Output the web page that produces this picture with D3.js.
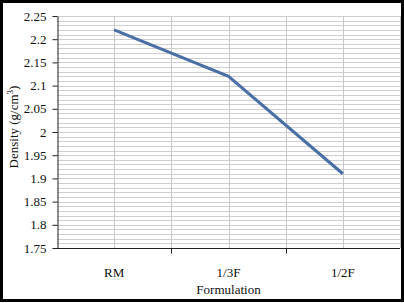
<!DOCTYPE html>
<html>
<head>
<meta charset="utf-8">
<script src="https://cdn.jsdelivr.net/npm/d3@7"></script>
<style>
  body { margin: 0; background: #fff; }
  svg text { font-family: "Liberation Serif", "DejaVu Serif", serif; }
</style>
</head>
<body>
<div class="canvas"></div>
<script>
// data
const categories = ['RM', '1/3F', '1/2F'];
const density = [2.22, 2.12, 1.91];
const yTicks = [1.75, 1.8, 1.85, 1.9, 1.95, 2, 2.05, 2.1, 2.15, 2.2, 2.25];

const width = 404, height = 303;
const margin = { top: 16, right: 4, bottom: 55, left: 57 };
const graphWidth = width - margin.left - margin.right;
const graphHeight = height - margin.top - margin.bottom;
const serif = 'Liberation Serif';

const svg = d3.select('.canvas')
  .append('svg')
  .attr('width', width)
  .attr('height', height);

const graph = svg.append('g')
  .attr('transform', `translate(${margin.left},${margin.top})`);

// scales
const x = d3.scaleBand()
  .domain(categories)
  .range([0, graphWidth]);

const y = d3.scaleLinear()
  .domain([1.75, 2.25])
  .range([graphHeight, 0]);

// horizontal gridlines every 0.01
const minor = d3.range(176, 226).map(v => v / 100);
graph.append('g')
  .selectAll('line')
  .data(minor)
  .enter()
  .append('line')
  .attr('x1', 0)
  .attr('x2', graphWidth)
  .attr('y1', d => Math.round(y(d)) + 0.5)
  .attr('y2', d => Math.round(y(d)) + 0.5)
  .attr('stroke', '#cfcfcf')
  .attr('stroke-width', 1);

// vertical gridlines at band centres and boundaries
const vLines = [];
categories.forEach((c, i) => {
  vLines.push(x(c) + x.bandwidth() / 2);
  if (i > 0) vLines.push(x(c));
});
vLines.push(graphWidth);
graph.append('g')
  .selectAll('line')
  .data(vLines)
  .enter()
  .append('line')
  .attr('x1', d => Math.round(d) + 0.5)
  .attr('x2', d => Math.round(d) + 0.5)
  .attr('y1', 0)
  .attr('y2', graphHeight)
  .attr('stroke', '#c8c8c8');

// axes
const yAxis = d3.axisLeft(y)
  .tickValues(yTicks)
  .tickSize(5)
  .tickSizeOuter(0)
  .tickFormat(d => d3.format('')(+d.toFixed(2)));

const yAxisGroup = graph.append('g')
  .attr('transform', 'translate(0.5,0)')
  .call(yAxis)
  .attr('font-family', serif);

const xAxisGroup = graph.append('g')
  .attr('transform', `translate(0,${graphHeight + 0.5})`);
xAxisGroup.append('line')
  .attr('x1', 0).attr('x2', graphWidth)
  .attr('stroke', '#222');
xAxisGroup.selectAll('.tk')
  .data(categories.slice(1))
  .enter()
  .append('line')
  .attr('x1', d => Math.round(x(d)) + 0.5)
  .attr('x2', d => Math.round(x(d)) + 0.5)
  .attr('y1', 0).attr('y2', 5)
  .attr('stroke', '#222');
xAxisGroup.selectAll('text')
  .data(categories)
  .enter()
  .append('text')
  .attr('x', d => x(d) + x.bandwidth() / 2)
  .attr('y', 28)
  .attr('text-anchor', 'middle')
  .attr('font-family', serif)
  .attr('font-size', 13)
  .attr('fill', '#111')
  .text(d => d);

yAxisGroup.select('.domain').attr('stroke', '#222');
yAxisGroup.selectAll('.tick line').attr('stroke', '#222');
yAxisGroup.selectAll('text')
  .attr('font-size', 13)
  .attr('font-family', serif)
  .attr('fill', '#111')
  .attr('x', -11);

// line
const line = d3.line()
  .x((d, i) => x(categories[i]) + x.bandwidth() / 2)
  .y(d => y(d));

graph.append('path')
  .datum(density)
  .attr('d', line)
  .attr('fill', 'none')
  .attr('stroke', '#4a6ea6')
  .attr('stroke-width', 3);

// axis titles
svg.append('text')
  .attr('x', margin.left + graphWidth / 2)
  .attr('y', 294)
  .attr('text-anchor', 'middle')
  .attr('font-family', serif)
  .attr('font-size', 13)
  .attr('fill', '#111')
  .text('Formulation');

svg.append('text')
  .attr('transform', 'translate(18,127) rotate(-90)')
  .attr('text-anchor', 'middle')
  .attr('font-family', serif)
  .attr('font-size', 13)
  .attr('fill', '#111')
  .html('Density (g/cm<tspan dy="-5" font-size="9">3</tspan><tspan dy="5">)</tspan>');

// outer frame
svg.append('rect')
  .attr('x', 1.5).attr('y', 1.5)
  .attr('width', width - 3).attr('height', height - 4)
  .attr('fill', 'none')
  .attr('stroke', '#000')
  .attr('stroke-width', 3);
</script>
</body>
</html>
